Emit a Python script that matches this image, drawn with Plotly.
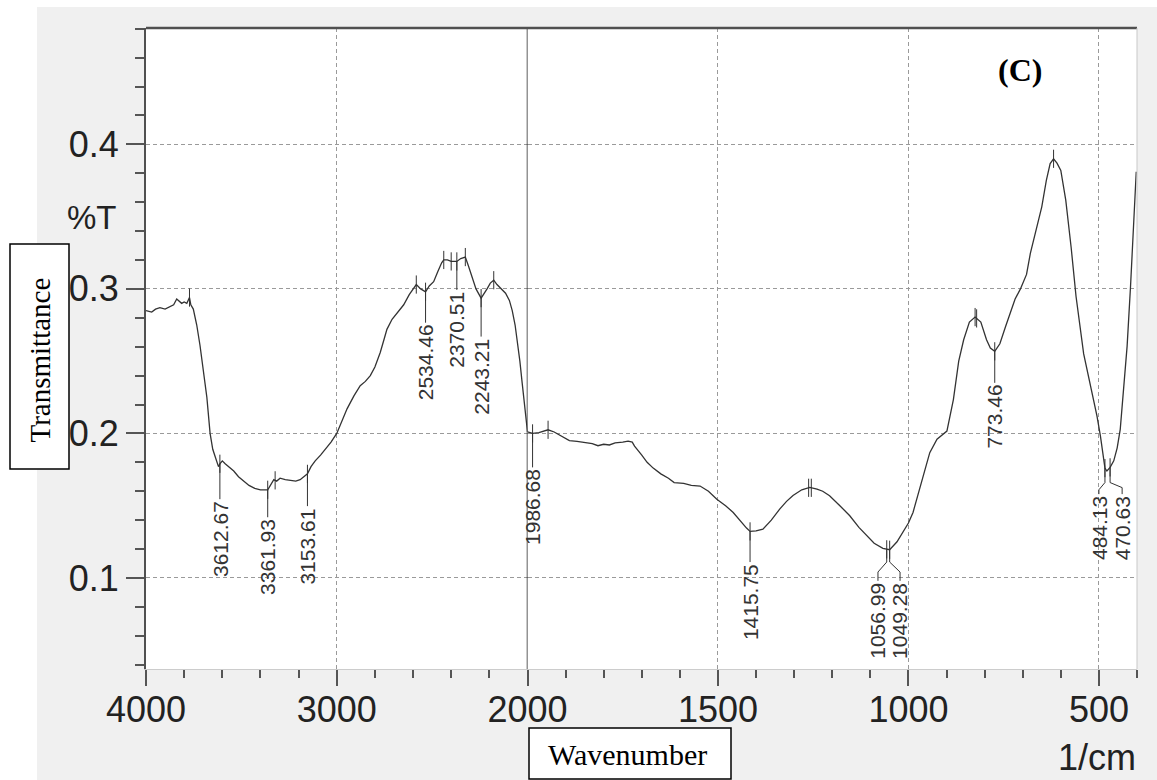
import numpy as np
import plotly.graph_objects as go

# ---------------- data ----------------
wavenumber = [
    4000, 3970, 3950, 3927, 3900, 3874, 3855, 3839, 3825, 3813, 3800, 3786, 3772, 3765, 3752,
    3734, 3717, 3700, 3681, 3664, 3650, 3635, 3620, 3612.67, 3600, 3585, 3560, 3540, 3515,
    3490, 3460, 3430, 3400, 3361.93, 3345, 3330, 3315, 3297, 3270, 3244, 3215, 3192, 3170,
    3153.61, 3135, 3113, 3085, 3060, 3030, 3000, 2970, 2946, 2910, 2877, 2850, 2824, 2800,
    2772, 2750, 2737, 2710, 2684, 2649, 2620, 2600, 2583, 2560, 2534.46, 2515, 2492, 2470,
    2450, 2439, 2420, 2400, 2370.51, 2350, 2326, 2310, 2290, 2270, 2243.21, 2225, 2212,
    2195, 2177, 2160, 2140, 2115, 2095, 2080, 2065, 2054, 2040, 2028, 2012, 2000,
    1986.68, 1970, 1955, 1946, 1930, 1910, 1890, 1870, 1850, 1830, 1815, 1800, 1785, 1770,
    1750, 1736, 1725, 1719, 1700, 1686, 1670, 1650, 1630, 1615, 1590, 1570, 1547, 1525,
    1503, 1480, 1460, 1440, 1425, 1415.75, 1400, 1382, 1360, 1338, 1320, 1303, 1280, 1259,
    1240, 1225, 1207, 1180, 1154, 1130, 1110, 1090, 1067, 1056.99, 1049.28, 1030, 1014,
    1000, 988, 965, 944, 925, 910, 899, 882, 868, 855, 840, 825, 810, 795, 785, 773.46, 760,
    745, 732, 720, 706, 690, 680, 665, 650, 638, 628, 619, 610, 600, 587, 573, 560, 540,
    519, 505, 496, 484.13, 479, 470.63, 461, 452, 444, 435, 426, 417, 410, 402,
]
transmittance = [
    0.285, 0.284, 0.286, 0.287, 0.286, 0.288, 0.289, 0.293, 0.291, 0.290, 0.291, 0.290, 0.294, 0.289, 0.286,
    0.275, 0.261, 0.243, 0.225, 0.200, 0.189, 0.183, 0.177, 0.179, 0.181, 0.179, 0.176, 0.174, 0.170,
    0.167, 0.164, 0.162, 0.161, 0.161, 0.165, 0.168, 0.167, 0.169, 0.168, 0.1675, 0.167, 0.168, 0.170,
    0.172, 0.177, 0.181, 0.185, 0.189, 0.194, 0.200, 0.209, 0.217, 0.226, 0.233, 0.236, 0.240, 0.246,
    0.256, 0.266, 0.272, 0.279, 0.283, 0.289, 0.296, 0.300, 0.303, 0.300, 0.298, 0.302, 0.305, 0.312,
    0.318, 0.320, 0.320, 0.319, 0.319, 0.321, 0.322, 0.316, 0.3085, 0.300, 0.2936, 0.297, 0.300,
    0.304, 0.306, 0.303, 0.300, 0.297, 0.292, 0.285, 0.275, 0.265, 0.250, 0.235, 0.215, 0.201,
    0.200, 0.2005, 0.202, 0.2025, 0.201, 0.198, 0.195, 0.1945, 0.1935, 0.193, 0.1915, 0.1925, 0.192, 0.1935,
    0.194, 0.1947, 0.194, 0.1912, 0.185, 0.180, 0.176, 0.172, 0.169, 0.166, 0.1655, 0.164, 0.1636, 0.160,
    0.1545, 0.150, 0.1453, 0.139, 0.1345, 0.1322, 0.1325, 0.1338, 0.140, 0.1476, 0.153, 0.157, 0.161, 0.1626,
    0.1615, 0.160, 0.1569, 0.150, 0.143, 0.135, 0.1292, 0.124, 0.1205, 0.1198, 0.1195, 0.125, 0.1315,
    0.138, 0.1453, 0.167, 0.1867, 0.196, 0.199, 0.2016, 0.2234, 0.250, 0.2648, 0.277, 0.2805, 0.277, 0.2648, 0.259, 0.2568, 0.262,
    0.274, 0.2832, 0.293, 0.300, 0.310, 0.3245, 0.340, 0.3568, 0.375, 0.3867, 0.390, 0.387, 0.382, 0.3614, 0.329, 0.2947, 0.255,
    0.2303, 0.212, 0.1981, 0.176, 0.174, 0.1765, 0.181, 0.190, 0.2028, 0.230, 0.2602, 0.3016, 0.340, 0.381,
]

peak_marks = [3772, 3323, 2583, 2439, 2400, 2326, 2177, 1946, 1262, 1255, 825, 821, 619]
labeled_bands = [3612.67, 3361.93, 3153.61, 2534.46, 2370.51, 2243.21, 1986.68,
                 1415.75, 1056.99, 1049.28, 773.46, 484.13, 470.63]
band_labels = ["3612.67", "3361.93", "3153.61", "2534.46", "2370.51", "2243.21", "1986.68",
               "1415.75", "1056.99", "1049.28", "773.46", "484.13", "470.63"]

x_ticks_high = [4000, 3000, 2000]
x_ticks_low = [1500, 1000, 500]
y_ticks = [0.1, 0.2, 0.3, 0.4]
y_tick_text = ["0.1", "0.2", "0.3", "0.4"]

# label layout: (label x [wavenumber], knee y, elbow y, label top y)
label_layout = {
    "3612.67": (3612.67, None, None, 0.1545),
    "3361.93": (3361.93, None, None, 0.142),
    "3153.61": (3153.61, None, None, 0.1497),
    "2534.46": (2534.46, None, None, 0.2766),
    "2370.51": (2370.51, None, None, 0.2993),
    "2243.21": (2243.21, None, None, 0.267),
    "1986.68": (1986.68, None, None, 0.1765),
    "1415.75": (1415.75, None, None, 0.111),
    "1056.99": (1080, 0.111, 0.1041, 0.098),
    "1049.28": (1022, 0.111, 0.1041, 0.098),
    "773.46": (773.46, None, None, 0.235),
    "484.13": (500, 0.166, 0.161, 0.158),
    "470.63": (439, 0.166, 0.1625, 0.158),
}

# ---------------- helpers ----------------
W = np.array(wavenumber, dtype=float)
T = np.array(transmittance, dtype=float)


def curve_at(w):
    return float(np.interp(w, W[::-1], T[::-1]))


def axis_of(w):
    return "x" if w >= 2000 else "x2"


LINE = "#333333"
fig = go.Figure()

hi = W >= 2000
lo = W <= 2000
fig.add_trace(go.Scatter(x=W[hi], y=T[hi], mode="lines", xaxis="x", yaxis="y",
                         line=dict(color=LINE, width=1.3), hoverinfo="skip"))
fig.add_trace(go.Scatter(x=W[lo], y=T[lo], mode="lines", xaxis="x2", yaxis="y",
                         line=dict(color=LINE, width=1.3), hoverinfo="skip"))

# peak tick marks
for ax in ("x", "x2"):
    pts = [w for w in peak_marks + labeled_bands if axis_of(w) == ax]
    fig.add_trace(go.Scatter(x=pts, y=[curve_at(w) for w in pts], mode="markers",
                             xaxis=ax, yaxis="y", hoverinfo="skip",
                             marker=dict(symbol="line-ns", size=13,
                                         line=dict(width=1, color=LINE))))

# leader lines + labels
lead = {"x": ([], []), "x2": ([], [])}
annotations = []
label_font = dict(family="Liberation Sans, Arial", size=21, color="#333")
for band, txt in zip(labeled_bands, band_labels):
    lx, knee, elbow, top = label_layout[txt]
    ax = axis_of(band)
    xs, ys = lead[ax]
    y0 = curve_at(band)
    if knee is None:
        xs += [band, band, None]
        ys += [y0, top, None]
    else:
        xs += [band, band, lx, lx, None]
        ys += [y0, knee, elbow, top, None]
    annotations.append(dict(x=lx, y=top, xref=ax, yref="y", text=txt, textangle=-90,
                            showarrow=False, xanchor="center", yanchor="top",
                            font=label_font))
for ax, (xs, ys) in lead.items():
    fig.add_trace(go.Scatter(x=xs, y=ys, mode="lines", xaxis=ax, yaxis="y",
                             line=dict(color=LINE, width=1), hoverinfo="skip"))

# ---------------- layout ----------------
FW, FH = 1157, 780
L, R, TOP, BOT = 146, 1137, 28, 669
PW, PH = R - L, BOT - TOP
split = (527.5 - L) / PW


def px(xp):
    return (xp - L) / PW


def py(yp):
    return (BOT - yp) / PH


tickfont = dict(family="Liberation Sans, Arial", size=36, color="#222")
common_x = dict(ticks="outside", ticklen=16, tickwidth=1.5, tickcolor="#555",
                showgrid=True, gridcolor="#9a9a9a", griddash="4px,3px", gridwidth=1,
                showline=True, linecolor="#cccccc", linewidth=1, zeroline=False,
                tickfont=tickfont, anchor="y", tickmode="array", ticklabelstandoff=-7,
                automargin=False)

fig.update_layout(
    width=FW, height=FH, autosize=False,
    margin=dict(l=L, r=FW - R, t=TOP, b=FH - BOT, pad=0, autoexpand=False),
    paper_bgcolor="#f0f0f0", plot_bgcolor="white", showlegend=False,
    xaxis=dict(domain=[0, split], range=[4000, 2000], tickvals=x_ticks_high,
               ticktext=[str(v) for v in x_ticks_high],
               minor=dict(tick0=4000, dtick=200, ticks="outside", ticklen=8,
                          tickwidth=1.5, tickcolor="#555", showgrid=False),
               **common_x),
    xaxis2=dict(domain=[split, 1], range=[2000, 400], tickvals=x_ticks_low,
                ticktext=[str(v) for v in x_ticks_low],
                minor=dict(tick0=2000, dtick=100, ticks="outside", ticklen=8,
                           tickwidth=1.5, tickcolor="#555", showgrid=False),
                **common_x),
    yaxis=dict(range=[0.037, 0.4805], tickmode="array", tickvals=y_ticks,
               ticktext=y_tick_text, ticks="outside", ticklen=18, tickwidth=1.5,
               tickcolor="#555", showgrid=True, gridcolor="#9a9a9a",
               griddash="4px,3px", gridwidth=1, showline=True, linecolor="#505050",
               linewidth=2, zeroline=False, tickfont=tickfont, automargin=False,
               minor=dict(tick0=0, dtick=0.02, ticks="outside", ticklen=9,
                          tickwidth=1.5, tickcolor="#555", showgrid=False)),
)

shapes = [
    # white margins outside the grey panel
    dict(type="rect", xref="paper", yref="paper", x0=px(-5), x1=px(37), y0=py(790), y1=py(-5),
         fillcolor="white", line=dict(width=0), layer="below"),
    dict(type="rect", xref="paper", yref="paper", x0=px(-5), x1=px(1165), y0=py(7), y1=py(-5),
         fillcolor="white", line=dict(width=0), layer="below"),
    # 2000 cm-1 separator
    dict(type="line", xref="x", yref="paper", x0=2000, x1=2000, y0=0, y1=1,
         line=dict(color="#2a2a2a", width=1.5)),
    # top and right borders
    dict(type="line", xref="paper", yref="paper", x0=0, x1=1, y0=1, y1=1,
         line=dict(color="#505050", width=2.5)),
    dict(type="line", xref="paper", yref="paper", x0=1, x1=1, y0=0, y1=1,
         line=dict(color="#c8c8c8", width=1)),
    # axis title boxes
    dict(type="rect", xref="paper", yref="paper", x0=px(10), x1=px(69), y0=py(469), y1=py(244),
         fillcolor="white", line=dict(color="black", width=1.5)),
    dict(type="rect", xref="paper", yref="paper", x0=px(529), x1=px(731), y0=py(779), y1=py(728),
         fillcolor="white", line=dict(color="black", width=1.5)),
]
fig.update_layout(shapes=shapes)

serif = "Liberation Serif, Times New Roman"
annotations += [
    dict(x=px(39.5), y=py(360), xref="paper", yref="paper", text="Transmittance",
         textangle=-90, showarrow=False, xanchor="center", yanchor="middle",
         font=dict(family=serif, size=29, color="black")),
    dict(x=px(627), y=py(754), xref="paper", yref="paper", text="Wavenumber",
         showarrow=False, xanchor="center", yanchor="middle",
         font=dict(family=serif, size=30, color="black")),
    dict(x=px(1020), y=py(70), xref="paper", yref="paper", text="<b>(C)</b>",
         showarrow=False, xanchor="center", yanchor="middle",
         font=dict(family=serif, size=32, color="black")),
    dict(x=px(119), y=py(218), xref="paper", yref="paper", text="%T",
         xanchor="right", yanchor="middle", showarrow=False,
         font=dict(family="Liberation Sans, Arial", size=33, color="#222")),
    dict(x=px(1138), y=py(757), xref="paper", yref="paper", text="1/cm",
         xanchor="right", yanchor="middle", showarrow=False,
         font=dict(family="Liberation Sans, Arial", size=36, color="#222")),
]
fig.update_layout(annotations=annotations)

fig.write_html("out.html", config={"responsive": False})
